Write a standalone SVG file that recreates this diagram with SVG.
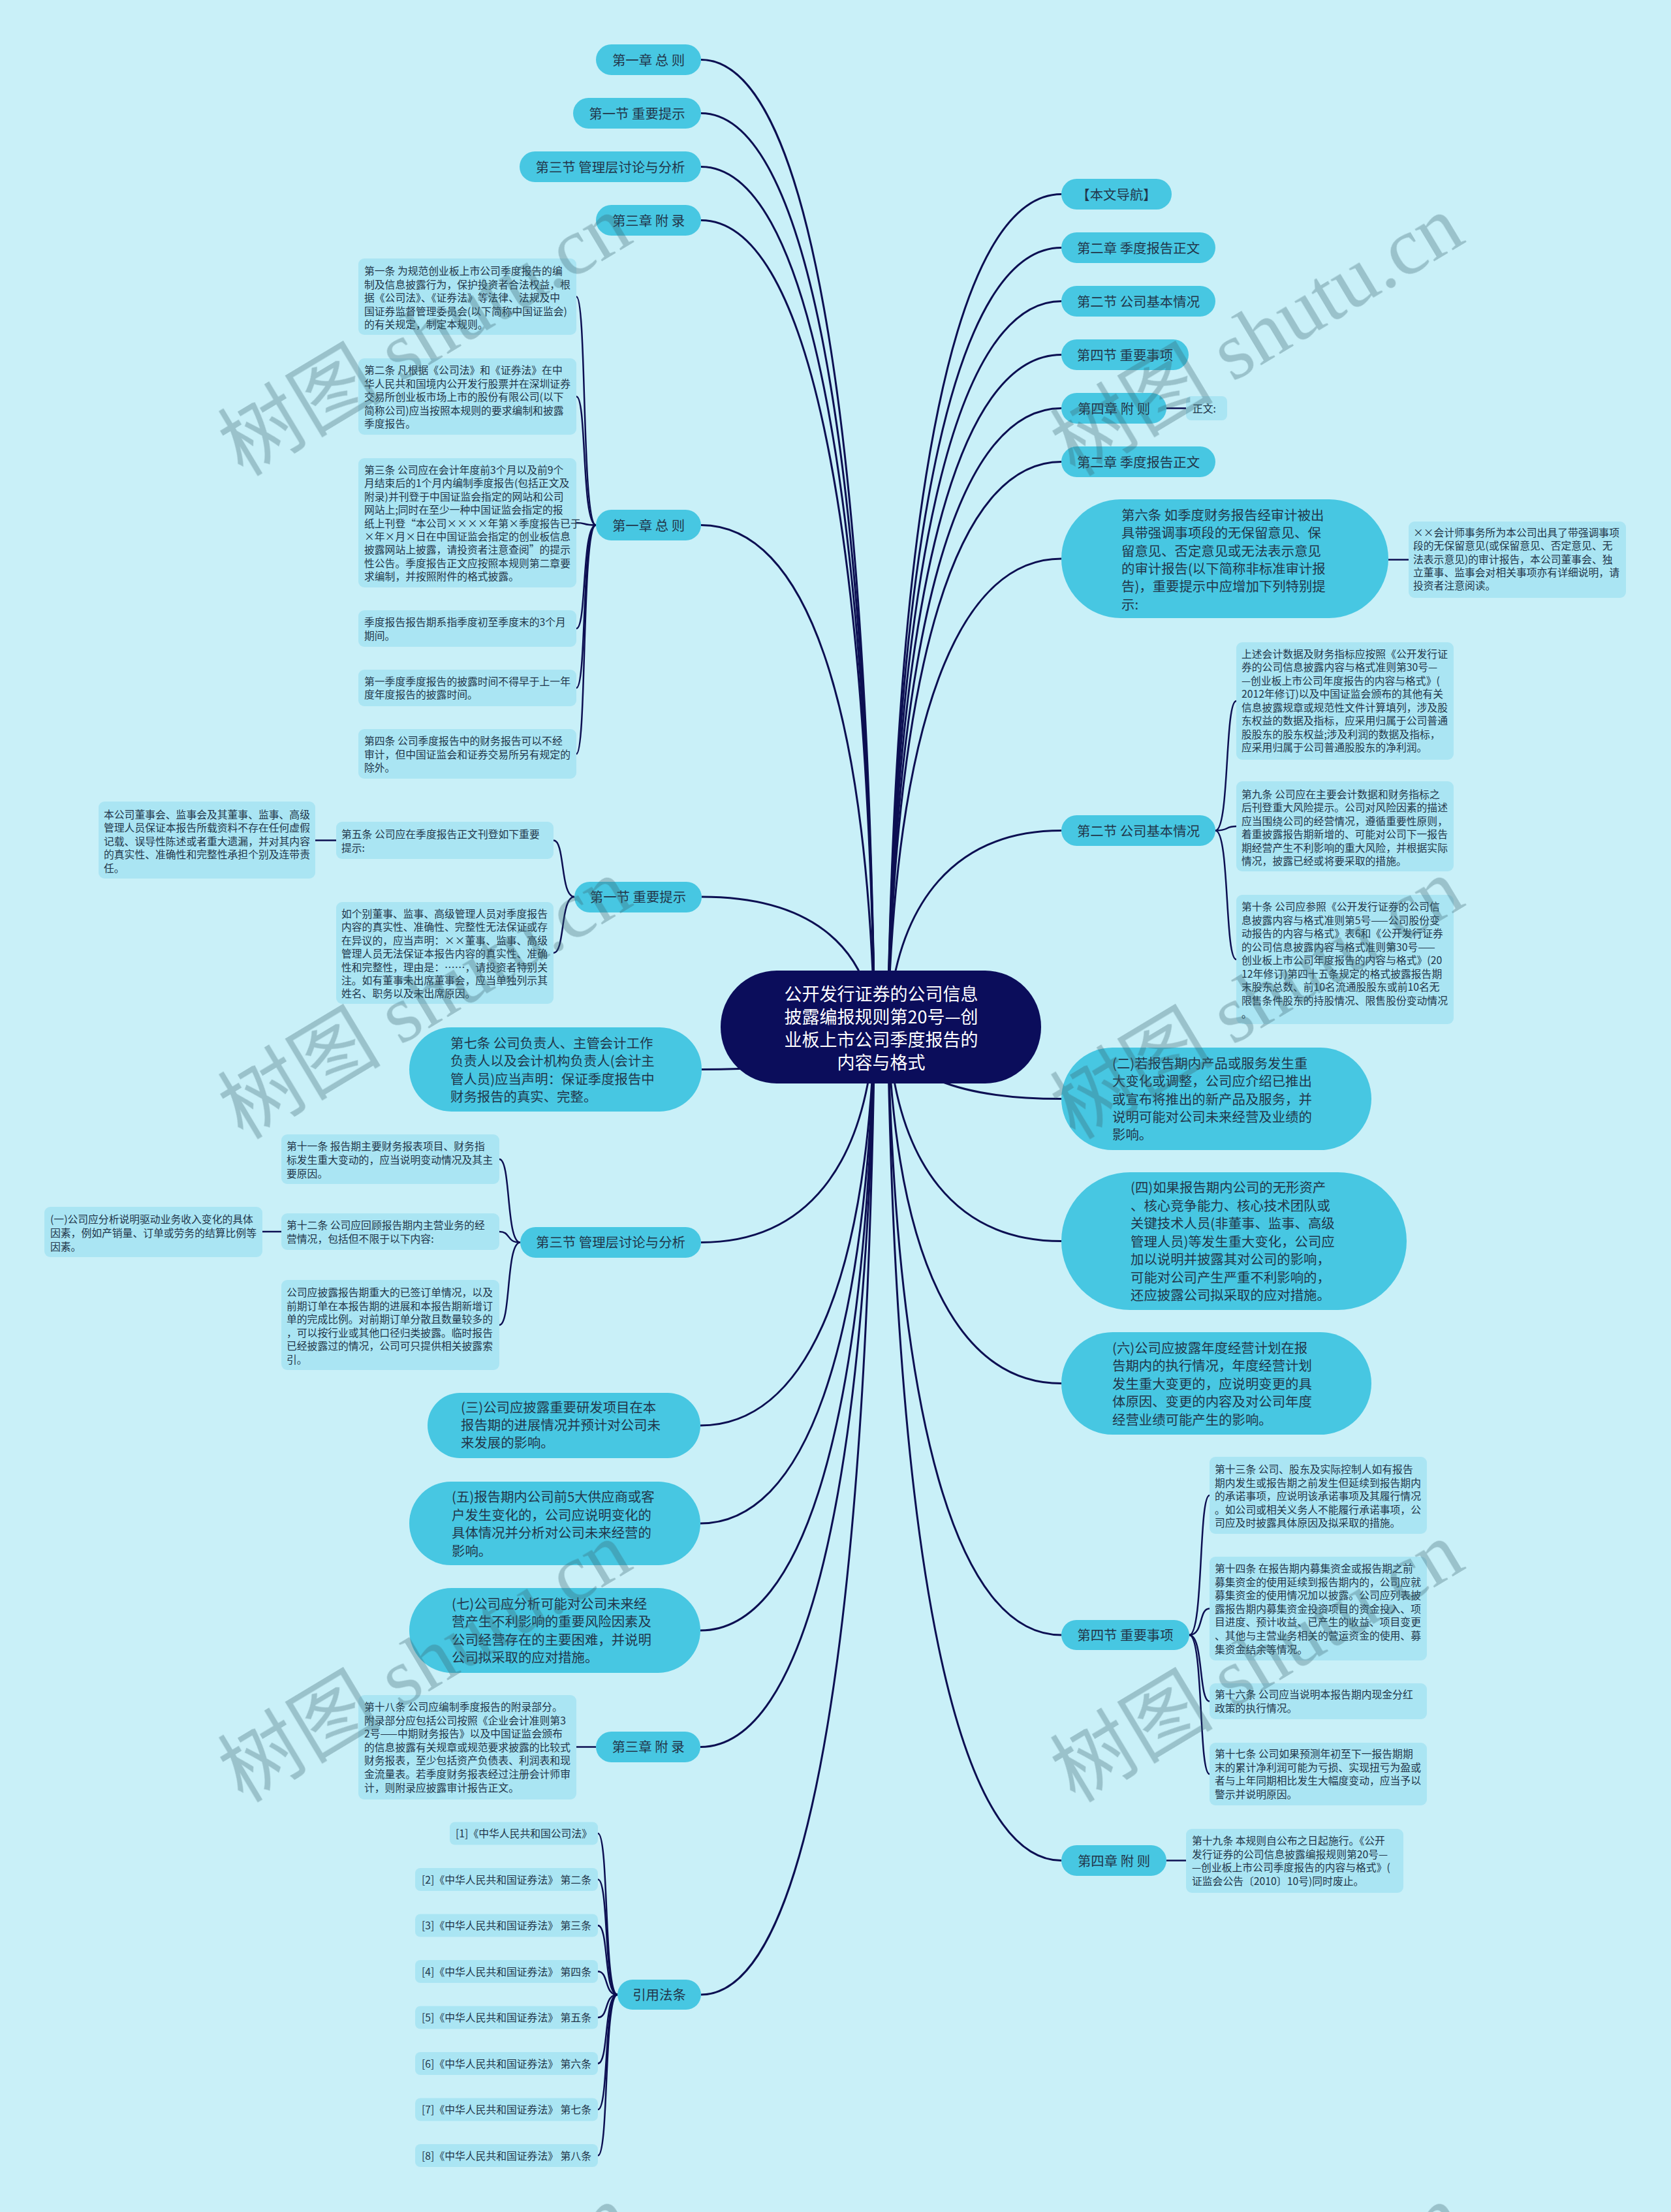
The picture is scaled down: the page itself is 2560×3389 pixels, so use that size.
<svg xmlns="http://www.w3.org/2000/svg" width="2560" height="3389" viewBox="0 0 2560 3389">
<style>
.bg{fill:#C9F0F8}
.n{fill:#47C7E2}
.l{fill:#AAE5F3}
.cn{fill:#0B0D5B}
.t{font-family:"Noto Sans CJK SC","Noto Sans",sans-serif;fill:#22364A}
.ts{font-size:15.8px}
.tn{font-size:20.4px}
.tm{text-anchor:middle}
.tc{font-family:"Noto Sans CJK SC","Noto Sans",sans-serif;font-size:27px;fill:#FFFFFF;text-anchor:middle}
.c{fill:none;stroke:#0C0F52;stroke-width:3}
.b{fill:none;stroke:#0C0F52;stroke-width:2.5}
.wm{font-family:"Liberation Serif","Noto Sans CJK SC",serif;font-size:125px;fill:#3C6470;text-anchor:middle}
</style>
<rect class="bg" x="0" y="0" width="2560" height="3389"/>
<g id="connectors">
<path class="c" d="M1074,91.5 C1234,91.5 1327,610 1340,1573"/>
<path class="c" d="M1074,173.5 C1234,173.5 1327,663 1340,1573"/>
<path class="c" d="M1074,255.5 C1234,255.5 1327,716 1340,1573"/>
<path class="c" d="M1074,337.5 C1234,337.5 1327,770 1340,1573"/>
<path class="c" d="M1074,804.5 C1234,804.5 1327,1074 1340,1573"/>
<path class="c" d="M1075,1374 C1235,1374 1327,1444 1340,1573"/>
<path class="c" d="M1075,1638.5 C1235,1638.5 1327,1616 1340,1573"/>
<path class="c" d="M1074,1903.5 C1234,1903.5 1327,1788 1340,1573"/>
<path class="c" d="M1073,2184 C1233,2184 1327,1970 1340,1573"/>
<path class="c" d="M1073,2334 C1233,2334 1327,2068 1340,1573"/>
<path class="c" d="M1073,2498 C1233,2498 1327,2174 1340,1573"/>
<path class="c" d="M1073,2676.5 C1233,2676.5 1327,2290 1340,1573"/>
<path class="c" d="M1074,3056 C1234,3056 1327,2537 1340,1573"/>
<path class="c" d="M1626,297.5 C1466,297.5 1373,744 1360,1573"/>
<path class="c" d="M1626,379.5 C1466,379.5 1373,797 1360,1573"/>
<path class="c" d="M1626,461.5 C1466,461.5 1373,850 1360,1573"/>
<path class="c" d="M1626,543.5 C1466,543.5 1373,903 1360,1573"/>
<path class="c" d="M1626,625.5 C1466,625.5 1373,957 1360,1573"/>
<path class="c" d="M1626,707.5 C1466,707.5 1373,1010 1360,1573"/>
<path class="c" d="M1626,856 C1466,856 1373,1107 1360,1573"/>
<path class="c" d="M1626,1272.5 C1466,1272.5 1373,1378 1360,1573"/>
<path class="c" d="M1626,1683.5 C1466,1683.5 1373,1645 1360,1573"/>
<path class="c" d="M1626,1901.5 C1466,1901.5 1373,1786 1360,1573"/>
<path class="c" d="M1626,2119.5 C1466,2119.5 1373,1928 1360,1573"/>
<path class="c" d="M1626,2505 C1466,2505 1373,2179 1360,1573"/>
<path class="c" d="M1626,2850.5 C1466,2850.5 1373,2403 1360,1573"/>
<path class="b" d="M913,804.5 C891,804.5 899,454.5 883,454.5"/>
<path class="b" d="M913,804.5 C891,804.5 899,607.5 883,607.5"/>
<path class="b" d="M913,804.5 C891,804.5 899,801 883,801"/>
<path class="b" d="M913,804.5 C891,804.5 899,963 883,963"/>
<path class="b" d="M913,804.5 C891,804.5 899,1054 883,1054"/>
<path class="b" d="M913,804.5 C891,804.5 899,1155 883,1155"/>
<path class="b" d="M880,1374 C858,1374 866,1287.5 848,1287.5"/>
<path class="b" d="M880,1374 C858,1374 866,1460 848,1460"/>
<path class="b" d="M797,1903.5 C775,1903.5 783,1776 765,1776"/>
<path class="b" d="M797,1903.5 C775,1903.5 783,1887 765,1887"/>
<path class="b" d="M797,1903.5 C775,1903.5 783,2030 765,2030"/>
<path class="b" d="M946,3056 C925,3056 933,2809 916,2809"/>
<path class="b" d="M946,3056 C925,3056 933,2879.5 916,2879.5"/>
<path class="b" d="M946,3056 C925,3056 933,2950 916,2950"/>
<path class="b" d="M946,3056 C925,3056 933,3020.5 916,3020.5"/>
<path class="b" d="M946,3056 C925,3056 933,3091 916,3091"/>
<path class="b" d="M946,3056 C925,3056 933,3161.5 916,3161.5"/>
<path class="b" d="M946,3056 C925,3056 933,3232 916,3232"/>
<path class="b" d="M946,3056 C925,3056 933,3302.5 916,3302.5"/>
<path class="b" d="M1862,1272.5 C1884,1272.5 1876,1074 1894,1074"/>
<path class="b" d="M1862,1272.5 C1884,1272.5 1876,1266 1894,1266"/>
<path class="b" d="M1862,1272.5 C1884,1272.5 1876,1470 1894,1470"/>
<path class="b" d="M1822,2505 C1844,2505 1836,2291 1853,2291"/>
<path class="b" d="M1822,2505 C1844,2505 1836,2464.5 1853,2464.5"/>
<path class="b" d="M1822,2505 C1844,2505 1836,2606.5 1853,2606.5"/>
<path class="b" d="M1822,2505 C1844,2505 1836,2718 1853,2718"/>
<path class="b" d="M1787,625.5 L1817,625.5"/>
<path class="b" d="M2127,857.5 L2158,857.5"/>
<path class="b" d="M515,1287.5 L483,1287.5"/>
<path class="b" d="M431,1887 L402,1887"/>
<path class="b" d="M913,2676.5 L883,2676.5"/>
<path class="b" d="M1787,2850.5 L1817,2850.5"/>
</g>

<g id="center">
<rect class="cn" x="1104" y="1487" width="491" height="173" rx="86"/>
<text class="tc"><tspan x="1350" y="1533">公开发行证券的公司信息</tspan><tspan x="1350" y="1568">披露编报规则第20号—创</tspan><tspan x="1350" y="1603">业板上市公司季度报告的</tspan><tspan x="1350" y="1638">内容与格式</tspan></text>
</g>

<g id="L1"><rect class="n" x="913" y="68" width="161" height="47" rx="23.5"/><text class="t tn tm" x="993.5" y="99.5">第一章 总 则</text></g>
<g id="L2"><rect class="n" x="878" y="150" width="196" height="47" rx="23.5"/><text class="t tn tm" x="976" y="181.5">第一节 重要提示</text></g>
<g id="L3"><rect class="n" x="796" y="232" width="278" height="47" rx="23.5"/><text class="t tn tm" x="935" y="263.5">第三节 管理层讨论与分析</text></g>
<g id="L4"><rect class="n" x="913" y="314" width="161" height="47" rx="23.5"/><text class="t tn tm" x="993.5" y="345.5">第三章 附 录</text></g>

<g id="L5"><rect class="n" x="913" y="781" width="161" height="47" rx="23.5"/><text class="t tn tm" x="993.5" y="812.5">第一章 总 则</text></g>
<g id="A1"><rect class="l" x="549" y="396" width="334" height="117" rx="9"/><text class="t ts"><tspan x="558" y="421">第一条 为规范创业板上市公司季度报告的编</tspan><tspan x="558" y="441.5">制及信息披露行为，保护投资者合法权益，根</tspan><tspan x="558" y="462">据《公司法》、《证券法》等法律、法规及中</tspan><tspan x="558" y="482.5">国证券监督管理委员会(以下简称中国证监会)</tspan><tspan x="558" y="503">的有关规定，制定本规则。</tspan></text></g>
<g id="A2"><rect class="l" x="549" y="549" width="334" height="117" rx="9"/><text class="t ts"><tspan x="558" y="573">第二条 凡根据《公司法》和《证券法》在中</tspan><tspan x="558" y="593.5">华人民共和国境内公开发行股票并在深圳证券</tspan><tspan x="558" y="614">交易所创业板市场上市的股份有限公司(以下</tspan><tspan x="558" y="634.5">简称公司)应当按照本规则的要求编制和披露</tspan><tspan x="558" y="655">季度报告。</tspan></text></g>
<g id="A3"><rect class="l" x="549" y="702" width="334" height="198" rx="9"/><text class="t ts"><tspan x="558" y="726">第三条 公司应在会计年度前3个月以及前9个</tspan><tspan x="558" y="746.4">月结束后的1个月内编制季度报告(包括正文及</tspan><tspan x="558" y="766.8">附录)并刊登于中国证监会指定的网站和公司</tspan><tspan x="558" y="787.2">网站上;同时在至少一种中国证监会指定的报</tspan><tspan x="558" y="807.6">纸上刊登“本公司××××年第×季度报告已于</tspan><tspan x="558" y="828">×年×月×日在中国证监会指定的创业板信息</tspan><tspan x="558" y="848.4">披露网站上披露，请投资者注意查阅”的提示</tspan><tspan x="558" y="868.8">性公告。季度报告正文应按照本规则第二章要</tspan><tspan x="558" y="889.2">求编制，并按照附件的格式披露。</tspan></text></g>
<g id="A4"><rect class="l" x="549" y="935" width="334" height="56" rx="9"/><text class="t ts"><tspan x="558" y="959">季度报告报告期系指季度初至季度末的3个月</tspan><tspan x="558" y="979.5">期间。</tspan></text></g>
<g id="A5"><rect class="l" x="549" y="1026" width="334" height="56" rx="9"/><text class="t ts"><tspan x="558" y="1049.5">第一季度季度报告的披露时间不得早于上一年</tspan><tspan x="558" y="1070">度年度报告的披露时间。</tspan></text></g>
<g id="A6"><rect class="l" x="549" y="1117" width="334" height="76" rx="9"/><text class="t ts"><tspan x="558" y="1141">第四条 公司季度报告中的财务报告可以不经</tspan><tspan x="558" y="1161.5">审计，但中国证监会和证券交易所另有规定的</tspan><tspan x="558" y="1182">除外。</tspan></text></g>

<g id="L6"><rect class="n" x="880" y="1351" width="195" height="47" rx="23.5"/><text class="t tn tm" x="977.5" y="1382">第一节 重要提示</text></g>
<g id="B1"><rect class="l" x="515" y="1259" width="333" height="57" rx="9"/><text class="t ts"><tspan x="523" y="1284">第五条 公司应在季度报告正文刊登如下重要</tspan><tspan x="523" y="1304.5">提示:</tspan></text></g>
<g id="B2"><rect class="l" x="151" y="1228" width="332" height="118" rx="9"/><text class="t ts"><tspan x="159" y="1254">本公司董事会、监事会及其董事、监事、高级</tspan><tspan x="159" y="1274.4">管理人员保证本报告所载资料不存在任何虚假</tspan><tspan x="159" y="1294.8">记载、误导性陈述或者重大遗漏，并对其内容</tspan><tspan x="159" y="1315.2">的真实性、准确性和完整性承担个别及连带责</tspan><tspan x="159" y="1335.6">任。</tspan></text></g>
<g id="B3"><rect class="l" x="515" y="1382" width="333" height="156" rx="9"/><text class="t ts"><tspan x="523" y="1406">如个别董事、监事、高级管理人员对季度报告</tspan><tspan x="523" y="1426.4">内容的真实性、准确性、完整性无法保证或存</tspan><tspan x="523" y="1446.8">在异议的，应当声明：××董事、监事、高级</tspan><tspan x="523" y="1467.2">管理人员无法保证本报告内容的真实性、准确</tspan><tspan x="523" y="1487.6">性和完整性，理由是：……，请投资者特别关</tspan><tspan x="523" y="1508">注。如有董事未出席董事会，应当单独列示其</tspan><tspan x="523" y="1528.4">姓名、职务以及未出席原因。</tspan></text></g>

<g id="L7"><rect class="n" x="627" y="1574" width="448" height="129" rx="64.5"/><text class="t tn"><tspan x="690" y="1605.5">第七条 公司负责人、主管会计工作</tspan><tspan x="690" y="1633">负责人以及会计机构负责人(会计主</tspan><tspan x="690" y="1660.5">管人员)应当声明：保证季度报告中</tspan><tspan x="690" y="1688">财务报告的真实、完整。</tspan></text></g>

<g id="L8"><rect class="n" x="797" y="1880" width="277" height="47" rx="23.5"/><text class="t tn tm" x="935.5" y="1911">第三节 管理层讨论与分析</text></g>
<g id="C1"><rect class="l" x="431" y="1738" width="334" height="76" rx="9"/><text class="t ts"><tspan x="439" y="1762">第十一条 报告期主要财务报表项目、财务指</tspan><tspan x="439" y="1783">标发生重大变动的，应当说明变动情况及其主</tspan><tspan x="439" y="1804">要原因。</tspan></text></g>
<g id="C2"><rect class="l" x="431" y="1859" width="334" height="56" rx="9"/><text class="t ts"><tspan x="439" y="1882.5">第十二条 公司应回顾报告期内主营业务的经</tspan><tspan x="439" y="1903.5">营情况，包括但不限于以下内容:</tspan></text></g>
<g id="C3"><rect class="l" x="68" y="1849" width="334" height="77" rx="9"/><text class="t ts"><tspan x="77" y="1874">(一)公司应分析说明驱动业务收入变化的具体</tspan><tspan x="77" y="1895">因素，例如产销量、订单或劳务的结算比例等</tspan><tspan x="77" y="1916">因素。</tspan></text></g>
<g id="C4"><rect class="l" x="431" y="1961" width="334" height="138" rx="9"/><text class="t ts"><tspan x="439" y="1986">公司应披露报告期重大的已签订单情况，以及</tspan><tspan x="439" y="2006.6">前期订单在本报告期的进展和本报告期新增订</tspan><tspan x="439" y="2027.2">单的完成比例。对前期订单分散且数量较多的</tspan><tspan x="439" y="2047.8">，可以按行业或其他口径归类披露。临时报告</tspan><tspan x="439" y="2068.4">已经披露过的情况，公司可只提供相关披露索</tspan><tspan x="439" y="2089">引。</tspan></text></g>

<g id="L9"><rect class="n" x="655" y="2134" width="418" height="100" rx="50"/><text class="t tn"><tspan x="706" y="2164">(三)公司应披露重要研发项目在本</tspan><tspan x="706" y="2191">报告期的进展情况并预计对公司未</tspan><tspan x="706" y="2218">来发展的影响。</tspan></text></g>
<g id="L10"><rect class="n" x="627" y="2270" width="446" height="128" rx="64"/><text class="t tn"><tspan x="692" y="2301">(五)报告期内公司前5大供应商或客</tspan><tspan x="692" y="2328.5">户发生变化的，公司应说明变化的</tspan><tspan x="692" y="2356">具体情况并分析对公司未来经营的</tspan><tspan x="692" y="2383.5">影响。</tspan></text></g>
<g id="L11"><rect class="n" x="627" y="2433" width="446" height="130" rx="65"/><text class="t tn"><tspan x="692" y="2465">(七)公司应分析可能对公司未来经</tspan><tspan x="692" y="2492.3">营产生不利影响的重要风险因素及</tspan><tspan x="692" y="2519.6">公司经营存在的主要困难，并说明</tspan><tspan x="692" y="2546.9">公司拟采取的应对措施。</tspan></text></g>

<g id="L12"><rect class="n" x="913" y="2653" width="160" height="47" rx="23.5"/><text class="t tn tm" x="993" y="2684">第三章 附 录</text></g>
<g id="D1"><rect class="l" x="549" y="2597" width="334" height="160" rx="9"/><text class="t ts"><tspan x="558" y="2621">第十八条 公司应编制季度报告的附录部分。</tspan><tspan x="558" y="2641.6">附录部分应包括公司按照《企业会计准则第3</tspan><tspan x="558" y="2662.2">2号——中期财务报告》以及中国证监会颁布</tspan><tspan x="558" y="2682.8">的信息披露有关规章或规范要求披露的比较式</tspan><tspan x="558" y="2703.4">财务报表，至少包括资产负债表、利润表和现</tspan><tspan x="558" y="2724">金流量表。若季度财务报表经过注册会计师审</tspan><tspan x="558" y="2744.6">计，则附录应披露审计报告正文。</tspan></text></g>

<g id="L13"><rect class="n" x="946" y="3033" width="128" height="46" rx="23"/><text class="t tn tm" x="1010" y="3063.5">引用法条</text></g>
<g id="E1"><rect class="l" x="689" y="2791.5" width="227" height="35" rx="8"/><text class="t ts" x="698" y="2815">[1]《中华人民共和国公司法》</text></g>
<g id="E2"><rect class="l" x="636" y="2862" width="280" height="35" rx="8"/><text class="t ts" x="646" y="2885.5">[2]《中华人民共和国证券法》 第二条</text></g>
<g id="E3"><rect class="l" x="636" y="2932.5" width="280" height="35" rx="8"/><text class="t ts" x="646" y="2956">[3]《中华人民共和国证券法》 第三条</text></g>
<g id="E4"><rect class="l" x="636" y="3003" width="280" height="35" rx="8"/><text class="t ts" x="646" y="3026.5">[4]《中华人民共和国证券法》 第四条</text></g>
<g id="E5"><rect class="l" x="636" y="3073.5" width="280" height="35" rx="8"/><text class="t ts" x="646" y="3097">[5]《中华人民共和国证券法》 第五条</text></g>
<g id="E6"><rect class="l" x="636" y="3144" width="280" height="35" rx="8"/><text class="t ts" x="646" y="3167.5">[6]《中华人民共和国证券法》 第六条</text></g>
<g id="E7"><rect class="l" x="636" y="3214.5" width="280" height="35" rx="8"/><text class="t ts" x="646" y="3238">[7]《中华人民共和国证券法》 第七条</text></g>
<g id="E8"><rect class="l" x="636" y="3285" width="280" height="35" rx="8"/><text class="t ts" x="646" y="3308.5">[8]《中华人民共和国证券法》 第八条</text></g>

<g id="R1"><rect class="n" x="1626" y="274" width="169" height="47" rx="23.5"/><text class="t tn tm" x="1710.5" y="305.5">【本文导航】</text></g>
<g id="R2"><rect class="n" x="1626" y="356" width="236" height="47" rx="23.5"/><text class="t tn tm" x="1744" y="387.5">第二章 季度报告正文</text></g>
<g id="R3"><rect class="n" x="1626" y="438" width="236" height="47" rx="23.5"/><text class="t tn tm" x="1744" y="469.5">第二节 公司基本情况</text></g>
<g id="R4"><rect class="n" x="1626" y="520" width="195" height="47" rx="23.5"/><text class="t tn tm" x="1723.5" y="551.5">第四节 重要事项</text></g>
<g id="R5"><rect class="n" x="1626" y="602" width="161" height="47" rx="23.5"/><text class="t tn tm" x="1706.5" y="633.5">第四章 附 则</text></g>
<g id="F1"><rect class="l" x="1817" y="607" width="63" height="37" rx="8"/><text class="t ts" x="1827" y="631.5">正文:</text></g>
<g id="R6"><rect class="n" x="1626" y="684" width="236" height="47" rx="23.5"/><text class="t tn tm" x="1744" y="715.5">第二章 季度报告正文</text></g>
<g id="R7"><rect class="n" x="1626" y="765" width="501" height="182" rx="91"/><text class="t tn"><tspan x="1718" y="797">第六条 如季度财务报告经审计被出</tspan><tspan x="1718" y="824.3">具带强调事项段的无保留意见、保</tspan><tspan x="1718" y="851.6">留意见、否定意见或无法表示意见</tspan><tspan x="1718" y="878.9">的审计报告(以下简称非标准审计报</tspan><tspan x="1718" y="906.2">告)，重要提示中应增加下列特别提</tspan><tspan x="1718" y="933.5">示:</tspan></text></g>
<g id="G1"><rect class="l" x="2158" y="799" width="333" height="117" rx="9"/><text class="t ts"><tspan x="2165" y="822">××会计师事务所为本公司出具了带强调事项</tspan><tspan x="2165" y="842.3">段的无保留意见(或保留意见、否定意见、无</tspan><tspan x="2165" y="862.6">法表示意见)的审计报告，本公司董事会、独</tspan><tspan x="2165" y="882.9">立董事、监事会对相关事项亦有详细说明，请</tspan><tspan x="2165" y="903.2">投资者注意阅读。</tspan></text></g>

<g id="R8"><rect class="n" x="1626" y="1249" width="236" height="47" rx="23.5"/><text class="t tn tm" x="1744" y="1280.5">第二节 公司基本情况</text></g>
<g id="H1"><rect class="l" x="1894" y="984" width="333" height="180" rx="9"/><text class="t ts"><tspan x="1902" y="1007.5">上述会计数据及财务指标应按照《公开发行证</tspan><tspan x="1902" y="1028">券的公司信息披露内容与格式准则第30号—</tspan><tspan x="1902" y="1048.5">—创业板上市公司年度报告的内容与格式》(</tspan><tspan x="1902" y="1069">2012年修订)以及中国证监会颁布的其他有关</tspan><tspan x="1902" y="1089.5">信息披露规章或规范性文件计算填列，涉及股</tspan><tspan x="1902" y="1110">东权益的数据及指标，应采用归属于公司普通</tspan><tspan x="1902" y="1130.5">股股东的股东权益;涉及利润的数据及指标，</tspan><tspan x="1902" y="1151">应采用归属于公司普通股股东的净利润。</tspan></text></g>
<g id="H2"><rect class="l" x="1894" y="1197" width="333" height="138" rx="9"/><text class="t ts"><tspan x="1902" y="1223">第九条 公司应在主要会计数据和财务指标之</tspan><tspan x="1902" y="1243.4">后刊登重大风险提示。公司对风险因素的描述</tspan><tspan x="1902" y="1263.8">应当围绕公司的经营情况，遵循重要性原则，</tspan><tspan x="1902" y="1284.2">着重披露报告期新增的、可能对公司下一报告</tspan><tspan x="1902" y="1304.6">期经营产生不利影响的重大风险，并根据实际</tspan><tspan x="1902" y="1325">情况，披露已经或将要采取的措施。</tspan></text></g>
<g id="H3"><rect class="l" x="1894" y="1371" width="333" height="198" rx="9"/><text class="t ts"><tspan x="1902" y="1395">第十条 公司应参照《公开发行证券的公司信</tspan><tspan x="1902" y="1415.5">息披露内容与格式准则第5号——公司股份变</tspan><tspan x="1902" y="1436">动报告的内容与格式》表6和《公开发行证券</tspan><tspan x="1902" y="1456.5">的公司信息披露内容与格式准则第30号——</tspan><tspan x="1902" y="1477">创业板上市公司年度报告的内容与格式》(20</tspan><tspan x="1902" y="1497.5">12年修订)第四十五条规定的格式披露报告期</tspan><tspan x="1902" y="1518">末股东总数、前10名流通股股东或前10名无</tspan><tspan x="1902" y="1538.5">限售条件股东的持股情况、限售股份变动情况</tspan><tspan x="1902" y="1559">。</tspan></text></g>

<g id="R9"><rect class="n" x="1626" y="1605" width="475" height="157" rx="78.5"/><text class="t tn"><tspan x="1704" y="1637">(二)若报告期内产品或服务发生重</tspan><tspan x="1704" y="1664.3">大变化或调整，公司应介绍已推出</tspan><tspan x="1704" y="1691.6">或宣布将推出的新产品及服务，并</tspan><tspan x="1704" y="1718.9">说明可能对公司未来经营及业绩的</tspan><tspan x="1704" y="1746.2">影响。</tspan></text></g>
<g id="R10"><rect class="n" x="1626" y="1796" width="529" height="211" rx="105.5"/><text class="t tn"><tspan x="1732" y="1827">(四)如果报告期内公司的无形资产</tspan><tspan x="1732" y="1854.5">、核心竞争能力、核心技术团队或</tspan><tspan x="1732" y="1882">关键技术人员(非董事、监事、高级</tspan><tspan x="1732" y="1909.5">管理人员)等发生重大变化，公司应</tspan><tspan x="1732" y="1937">加以说明并披露其对公司的影响，</tspan><tspan x="1732" y="1964.5">可能对公司产生严重不利影响的，</tspan><tspan x="1732" y="1992">还应披露公司拟采取的应对措施。</tspan></text></g>
<g id="R11"><rect class="n" x="1626" y="2041" width="475" height="157" rx="78.5"/><text class="t tn"><tspan x="1704" y="2073">(六)公司应披露年度经营计划在报</tspan><tspan x="1704" y="2100.4">告期内的执行情况，年度经营计划</tspan><tspan x="1704" y="2127.8">发生重大变更的，应说明变更的具</tspan><tspan x="1704" y="2155.2">体原因、变更的内容及对公司年度</tspan><tspan x="1704" y="2182.6">经营业绩可能产生的影响。</tspan></text></g>

<g id="R12"><rect class="n" x="1626" y="2482" width="196" height="46" rx="23"/><text class="t tn tm" x="1724" y="2512.5">第四节 重要事项</text></g>
<g id="I1"><rect class="l" x="1853" y="2232" width="333" height="118" rx="9"/><text class="t ts"><tspan x="1861" y="2257">第十三条 公司、股东及实际控制人如有报告</tspan><tspan x="1861" y="2277.6">期内发生或报告期之前发生但延续到报告期内</tspan><tspan x="1861" y="2298.2">的承诺事项，应说明该承诺事项及其履行情况</tspan><tspan x="1861" y="2318.8">。如公司或相关义务人不能履行承诺事项，公</tspan><tspan x="1861" y="2339.4">司应及时披露具体原因及拟采取的措施。</tspan></text></g>
<g id="I2"><rect class="l" x="1853" y="2385" width="333" height="159" rx="9"/><text class="t ts"><tspan x="1861" y="2409">第十四条 在报告期内募集资金或报告期之前</tspan><tspan x="1861" y="2429.6">募集资金的使用延续到报告期内的，公司应就</tspan><tspan x="1861" y="2450.2">募集资金的使用情况加以披露。公司应列表披</tspan><tspan x="1861" y="2470.8">露报告期内募集资金投资项目的资金投入、项</tspan><tspan x="1861" y="2491.4">目进度、预计收益、已产生的收益、项目变更</tspan><tspan x="1861" y="2512">、其他与主营业务相关的营运资金的使用、募</tspan><tspan x="1861" y="2532.6">集资金结余等情况。</tspan></text></g>
<g id="I3"><rect class="l" x="1853" y="2579" width="333" height="55" rx="9"/><text class="t ts"><tspan x="1861" y="2602">第十六条 公司应当说明本报告期内现金分红</tspan><tspan x="1861" y="2623">政策的执行情况。</tspan></text></g>
<g id="I4"><rect class="l" x="1853" y="2670" width="333" height="96" rx="9"/><text class="t ts"><tspan x="1861" y="2693">第十七条 公司如果预测年初至下一报告期期</tspan><tspan x="1861" y="2713.7">末的累计净利润可能为亏损、实现扭亏为盈或</tspan><tspan x="1861" y="2734.4">者与上年同期相比发生大幅度变动，应当予以</tspan><tspan x="1861" y="2755.1">警示并说明原因。</tspan></text></g>

<g id="R13"><rect class="n" x="1626" y="2827" width="161" height="47" rx="23.5"/><text class="t tn tm" x="1706.5" y="2858.5">第四章 附 则</text></g>
<g id="J1"><rect class="l" x="1817" y="2802" width="333" height="98" rx="9"/><text class="t ts"><tspan x="1826" y="2826">第十九条 本规则自公布之日起施行。《公开</tspan><tspan x="1826" y="2846.6">发行证券的公司信息披露编报规则第20号—</tspan><tspan x="1826" y="2867.2">—创业板上市公司季度报告的内容与格式》(</tspan><tspan x="1826" y="2887.8">证监会公告〔2010〕10号)同时废止。</tspan></text></g>

<g id="watermark" opacity="0.33">
<text class="wm" transform="translate(652,516) rotate(-31)" y="40">树图 shutu.cn</text>
<text class="wm" transform="translate(1927,516) rotate(-31)" y="40">树图 shutu.cn</text>
<text class="wm" transform="translate(652,1532) rotate(-31)" y="40">树图 shutu.cn</text>
<text class="wm" transform="translate(1927,1532) rotate(-31)" y="40">树图 shutu.cn</text>
<text class="wm" transform="translate(652,2548) rotate(-31)" y="40">树图 shutu.cn</text>
<text class="wm" transform="translate(1927,2548) rotate(-31)" y="40">树图 shutu.cn</text>
<text class="wm" transform="translate(652,3564) rotate(-31)" y="40">树图 shutu.cn</text>
<text class="wm" transform="translate(1927,3564) rotate(-31)" y="40">树图 shutu.cn</text>
</g>
</svg>
